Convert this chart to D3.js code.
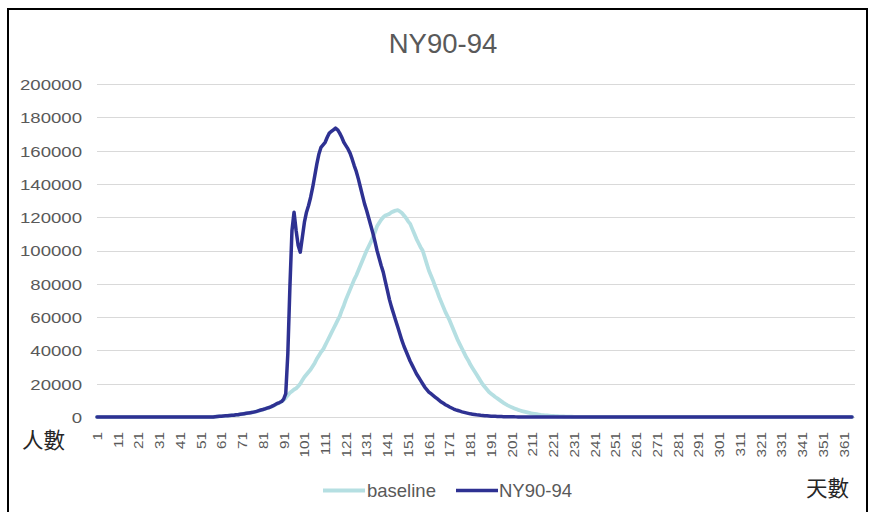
<!DOCTYPE html>
<html>
<head>
<meta charset="utf-8">
<script src="https://cdn.jsdelivr.net/npm/d3@7"></script>
<style>
  html, body { margin: 0; padding: 0; background: #fff; }
  svg { display: block; }
</style>
</head>
<body>
<svg id="chart" width="870" height="512"></svg>
<script>
// ---------- DATA ----------
const title = "NY90-94";
const seriesNames = ["baseline", "NY90-94"];
const yTickValues = [0, 20000, 40000, 60000, 80000, 100000, 120000, 140000, 160000, 180000, 200000];
const xTickLabels = ["1","11","21","31","41","51","61","71","81","91","101","111","121","131","141","151","161","171","181","191","201","211","221","231","241","251","261","271","281","291","301","311","321","331","341","351","361"];
const yAxisTitle = "人數";
const xAxisTitle = "天數";

// day 1 .. 365
const baseline = [
  0,0,0,0,0,0,0,0,0,0, 0,0,0,0,0,0,0,0,0,0, 0,0,0,0,0,0,0,0,0,0, 0,0,0,0,0,0,0,0,0,0, 0,0,0,0,0,0,0,0,0,0, 0,0,0,0,0,0,0,
  200,300,400,500,600,700,800,900,1000,1100,1300,1400,1600,1800,2000,2200,2400,2600,2800,3100,3400,3700,4100,4500,4900,5300,5700,6200,6800,7400,8000,8600,9300,10200,
  11500,13000,14500,15500,16500,17200,18500,20000,22000,24000,
  25500,27000,28500,30500,32500,35000,37000,39000,40500,43000,
  45500,48000,50500,53000,55500,58000,60500,64000,67000,70500,
  73500,76500,79500,82500,85000,88000,91000,94000,97000,100000,
  102500,105000,108000,111000,114500,116500,118500,120000,121000,121500,
  122000,123000,123500,124000,124200,123500,122500,121000,119500,117500,
  116000,113000,110000,107000,104500,102000,100000,96000,92000,88000,
  85000,82000,78500,75500,72000,69000,66000,63000,60500,58000,
  55000,52000,49000,46000,43500,41000,38500,36000,34000,31500,
  29500,27500,25500,23500,21500,19500,18000,16500,15000,14000,
  13000,12000,11200,10300,9400,8500,7700,7000,6400,5800,
  5300,4800,4300,3900,3500,3200,2900,2600,2300,2100,
  1900,1700,1500,1300,1150,1000,900,800,700,600,
  520,450,390,340,290,250,210,180,150,120,
  100,80,60,50,40,30,20,10,
  0,0,0,0,0,0,0,0,0,0, 0,0,0,0,0,0,0,0,0,0, 0,0,0,0,0,0,0,0,0,0, 0,0,0,0,0,0,0,0,0,0,
  0,0,0,0,0,0,0,0,0,0, 0,0,0,0,0,0,0,0,0,0, 0,0,0,0,0,0,0,0,0,0, 0,0,0,0,0,0,0,0,0,0,
  0,0,0,0,0,0,0,0,0,0, 0,0,0,0,0,0,0,0,0,0, 0,0,0,0,0,0,0,0,0,0, 0,0,0,0,0,0,0,0,0,0,
  0,0,0,0,0,0
];

const ny9094 = [
  0,0,0,0,0,0,0,0,0,0, 0,0,0,0,0,0,0,0,0,0, 0,0,0,0,0,0,0,0,0,0, 0,0,0,0,0,0,0,0,0,0, 0,0,0,0,0,0,0,0,0,0, 0,0,0,0,0,0,0,
  200,300,400,500,600,700,800,900,1000,1100,1300,1400,1600,1800,2000,2200,2400,2600,2800,3100,3400,3800,4200,4500,4900,5300,5700,6200,6800,7500,8200,8700,9300,10800,
  14000,38000,78000,112000,123000,112000,103000,99000,108000,117000,
  123000,127000,132000,138000,145000,152000,158000,162000,163500,165000,
  168000,170500,171500,172500,173500,172500,170500,168000,
  165000,163000,161000,158500,155000,151000,147500,143000,138000,133000,
  128000,124000,119500,115000,110500,105500,100000,95500,91000,87000,
  81500,76000,70500,66000,62000,58000,54000,50000,46000,42500,
  39500,36500,33500,31000,28500,26000,24000,22000,20000,18000,
  16500,15000,14000,13000,12000,11000,10000,9000,8200,7400,
  6700,6000,5400,4800,4300,3900,3500,3100,2800,2500,
  2200,1900,1700,1500,1300,1150,1000,900,800,700,
  600,520,450,390,340,290,250,210,180,150,
  130,110,90,75,60,50,40,30,25,20,
  15,
  0,0,0,0,0,0,0,0,0,0, 0,0,0,0,0,0,0,0,0,0, 0,0,0,0,0,0,0,0,0,0, 0,0,0,0,0,0,0,0,0,0,
  0,0,0,0,0,0,0,0,0,0, 0,0,0,0,0,0,0,0,0,0, 0,0,0,0,0,0,0,0,0,0, 0,0,0,0,0,0,0,0,0,0,
  0,0,0,0,0,0,0,0,0,0, 0,0,0,0,0,0,0,0,0,0, 0,0,0,0,0,0,0,0,0,0, 0,0,0,0,0,0,0,0,0,0,
  0,0,0,0,0,0,0,0,0,0, 0,0,0,0,0,0,0,0,0,0, 0,0,0,0,0,0,0,0,0,0, 0,0,0,0,0
];

const colors = { baseline: "#B5DFE2", ny: "#2E3192" };

// ---------- CHART ----------
const days = baseline.map((_, i) => i + 1);
const svg = d3.select("#chart");

// outer frame
svg.append("rect")
  .attr("x", 8).attr("y", 9).attr("width", 859).attr("height", 520)
  .attr("fill", "none").attr("stroke", "#000").attr("stroke-width", 2);

const x = d3.scalePoint().domain(days).range([97, 852]);
const y = d3.scaleLinear().domain([0, 200000]).range([417, 84]);

// title
svg.append("text")
  .attr("x", 443).attr("y", 53)
  .attr("text-anchor", "middle")
  .attr("font-family", "'Liberation Sans', Arial, sans-serif")
  .attr("font-size", 27.5)
  .attr("fill", "#595959")
  .text(title);

// gridlines
svg.append("g")
  .selectAll("line")
  .data(yTickValues.filter(v => v !== 0))
  .join("line")
  .attr("x1", 97).attr("x2", 855)
  .attr("y1", d => Math.round(y(d)) + 0.5).attr("y2", d => Math.round(y(d)) + 0.5)
  .attr("stroke", "#D9D9D9").attr("stroke-width", 1);

// baseline axis line
svg.append("line")
  .attr("x1", 97).attr("x2", 855)
  .attr("y1", Math.round(y(0)) + 0.5).attr("y2", Math.round(y(0)) + 0.5)
  .attr("stroke", "#D9D9D9").attr("stroke-width", 1);

// y axis labels (via d3 axis)
const yAxis = d3.axisLeft(y).tickValues(yTickValues).tickFormat(d3.format("d")).tickSize(0).tickPadding(0);
const yg = svg.append("g").attr("transform", "translate(82,0)").call(yAxis);
yg.select(".domain").remove();
yg.selectAll(".tick text")
  .attr("font-family", "'Liberation Sans', Arial, sans-serif")
  .attr("font-size", 15)
  .attr("fill", "#595959")
  .attr("x", 0)
  .attr("dy", "0.36em")
  .attr("transform", "scale(1.24,1)")
  .attr("text-anchor", "end");

// x axis labels (every 10th day)
const xAxis = d3.axisBottom(x).tickValues(xTickLabels.map(Number)).tickSize(0).tickPadding(0);
const xg = svg.append("g").attr("transform", "translate(0,432)").call(xAxis);
xg.select(".domain").remove();
xg.selectAll(".tick text")
  .attr("font-family", "'Liberation Sans', Arial, sans-serif")
  .attr("font-size", 12)
  .attr("fill", "#595959")
  .attr("text-anchor", "end")
  .attr("x", 0).attr("y", 0)
  .attr("dy", "0.36em")
  .attr("transform", "rotate(-90) scale(1.28,1)");

// lines
const lineGen = d3.line().x((d, i) => x(days[i])).y(d => y(d));
svg.append("path").datum(baseline)
  .attr("d", lineGen).attr("fill", "none")
  .attr("stroke", colors.baseline).attr("stroke-width", 3.8)
  .attr("stroke-linejoin", "round").attr("stroke-linecap", "round");
svg.append("path").datum(ny9094)
  .attr("d", lineGen).attr("fill", "none")
  .attr("stroke", colors.ny).attr("stroke-width", 3.5)
  .attr("stroke-linejoin", "round").attr("stroke-linecap", "round");

// axis titles
svg.append("text")
  .attr("x", 22).attr("y", 448)
  .attr("font-family", "'Noto Sans CJK TC', 'Noto Sans CJK SC', sans-serif")
  .attr("font-size", 21.5).attr("fill", "#262626")
  .text(yAxisTitle);
svg.append("text")
  .attr("x", 806).attr("y", 496)
  .attr("font-family", "'Noto Sans CJK TC', 'Noto Sans CJK SC', sans-serif")
  .attr("font-size", 21.5).attr("fill", "#262626")
  .text(xAxisTitle);

// legend
const legendItems = [
  { name: seriesNames[0], color: colors.baseline, x1: 323, x2: 365, tx: 367, w: 3.8 },
  { name: seriesNames[1], color: colors.ny, x1: 456, x2: 498, tx: 499, w: 3.5 }
];
const lg = svg.append("g");
legendItems.forEach(it => {
  lg.append("line")
    .attr("x1", it.x1).attr("x2", it.x2).attr("y1", 490.5).attr("y2", 490.5)
    .attr("stroke", it.color).attr("stroke-width", it.w);
  lg.append("text")
    .attr("x", it.tx).attr("y", 497)
    .attr("font-family", "'Liberation Sans', Arial, sans-serif")
    .attr("font-size", 18.5).attr("fill", "#595959")
    .text(it.name);
});
</script>
</body>
</html>
